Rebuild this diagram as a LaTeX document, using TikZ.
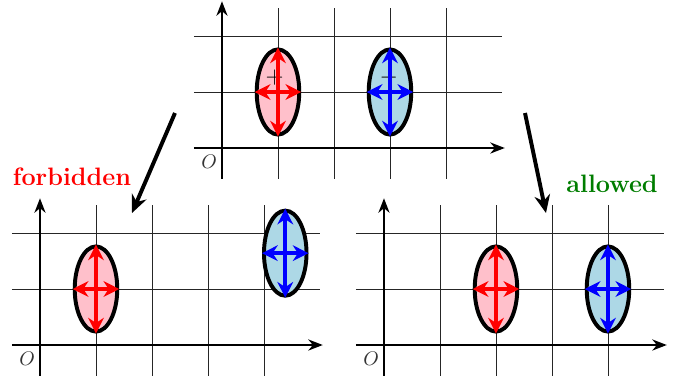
\documentclass[tikz,border=0pt]{standalone}
\usetikzlibrary{arrows.meta,shapes.geometric}

\definecolor{lightpink}{RGB}{255,192,203}
\definecolor{lightblue}{RGB}{173,216,230}
\definecolor{darkgreen}{RGB}{0,125,0}

% grid and axes of one panel
\newcommand{\drawlattice}{%
  \foreach \x in {1,...,4} \draw[gridline] (\x,-0.55) -- (\x,2.5);
  \foreach \y in {1,2} \draw[gridline] (-0.5,\y) -- (5,\y);
  \draw[axis] (-0.5,0) -- (5.05,0);
  \draw[axis] (0,-0.55) -- (0,2.62);
  \node[origin] at (-0.23,-0.25) {$O$};
}

\begin{document}
\begin{tikzpicture}[
    gridline/.style={black!85, line width=0.42pt},
    axis/.style={-{Stealth[length=2.6mm,width=2mm]}, line width=0.8pt},
    orb/.style={ellipse, draw=black, line width=2pt, minimum width=0.76cm, minimum height=1.52cm, inner sep=0pt},
    posorb/.style={orb, fill=lightpink},
    negorb/.style={orb, fill=lightblue},
    spin/.style={{Stealth[length=2.8mm,width=2.8mm]}-{Stealth[length=2.8mm,width=2.8mm]}, line width=2pt},
    jump/.style={-{Stealth[length=3.2mm,width=2.8mm]}, line width=2pt},
    origin/.style={font=\normalsize, text=black!80},
    charge/.style={font=\large, text=black, inner sep=0pt}
]
\useasboundingbox (0,0) rectangle (12.411,6.804);

% top panel
\begin{scope}[shift={(3.964,4.161)}]
  \drawlattice
  \node[posorb] (tpos) at (1,1) {};
  \node[negorb] (tneg) at (3,1) {};
  \node[charge] (tplus) at (0.94,1.25) {$+$};
  \node[charge] (tminus) at (2.98,1.25) {$-$};
  \draw[spin, red] (tpos.west) -- (tpos.east);
  \draw[spin, red] (tpos.south) -- (tpos.north);
  \draw[spin, blue] (tneg.west) -- (tneg.east);
  \draw[spin, blue] (tneg.south) -- (tneg.north);
\end{scope}

% bottom left panel
\begin{scope}[shift={(0.714,0.643)}]
  \drawlattice
  \node[posorb] (fpos) at (1,1) {};
  \node[negorb] (fneg) at (4.38,1.64) {};
  \draw[spin, red] (fpos.west) -- (fpos.east);
  \draw[spin, red] (fpos.south) -- (fpos.north);
  \draw[spin, blue] (fneg.west) -- (fneg.east);
  \draw[spin, blue] (fneg.south) -- (fneg.north);
\end{scope}

% bottom right panel
\begin{scope}[shift={(6.857,0.643)}]
  \drawlattice
  \node[posorb] (apos) at (2,1) {};
  \node[negorb] (aneg) at (4,1) {};
  \draw[spin, red] (apos.west) -- (apos.east);
  \draw[spin, red] (apos.south) -- (apos.north);
  \draw[spin, blue] (aneg.west) -- (aneg.east);
  \draw[spin, blue] (aneg.south) -- (aneg.north);
\end{scope}

\node[text=red, font=\fontsize{12.8}{15}\bfseries] (forbid) at (1.286,3.643) {forbidden};
\node[text=darkgreen, font=\fontsize{12.8}{15}\bfseries] (allow) at (10.929,3.52) {allowed};

\coordinate (fromL) at (3.125,4.786);
\coordinate (toL) at (2.357,3.0);
\coordinate (fromR) at (9.375,4.786);
\coordinate (toR) at (9.75,3.0);
\draw[jump] (fromL) -- (toL);
\draw[jump] (fromR) -- (toR);
\end{tikzpicture}
\end{document}
